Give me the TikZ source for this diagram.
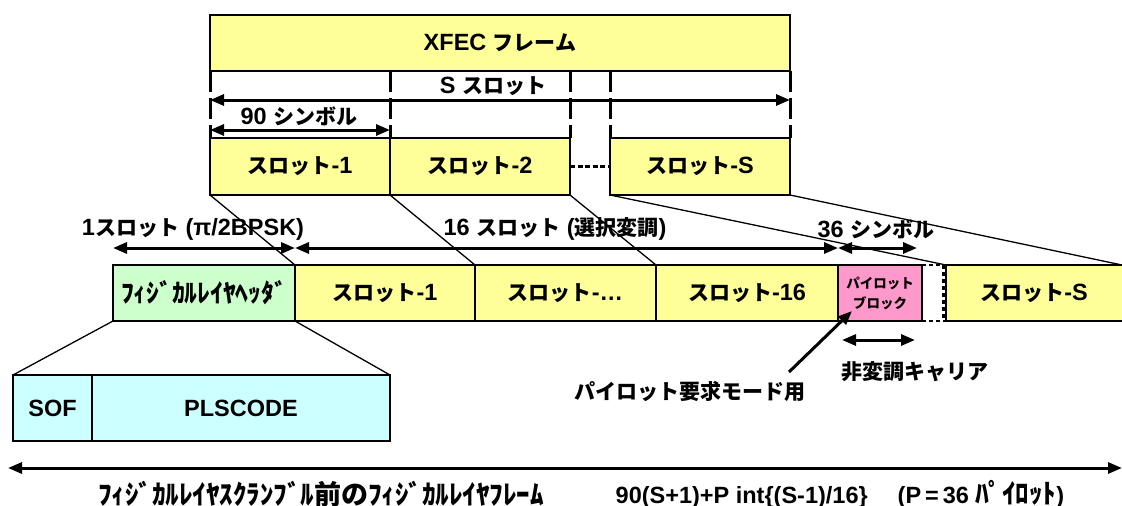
\documentclass[tikz,border=0pt]{standalone}
\usepackage{fontspec}
\setmainfont{Liberation Sans}
\newfontfamily\jpf{Noto Sans CJK JP}
\newcommand\jp{\jpf\fontsize{21}{24}\selectfont}
\usetikzlibrary{arrows.meta}
\definecolor{yfill}{HTML}{FFFF99}
\definecolor{gfill}{HTML}{CCFFCC}
\definecolor{pfill}{HTML}{FF99CC}
\definecolor{cfill}{HTML}{CCFFFF}
\tikzset{
  box/.style={draw, line width=1.4pt, inner sep=0pt, outer sep=0pt, anchor=north west,
    font=\bfseries\fontsize{23.5}{26}\selectfont, align=center},
  ybox/.style={box, fill=yfill},
  gbox/.style={box, fill=gfill},
  pbox/.style={box, fill=pfill},
  cbox/.style={box, fill=cfill},
  lbl/.style={inner sep=0pt, font=\bfseries\fontsize{23.5}{26}\selectfont},
  dashv/.style={line width=3pt, dash pattern=on 21pt off 6pt},
  dotline/.style={line width=3.5pt, dash pattern=on 5pt off 2.5pt},
  dotthin/.style={line width=2.2pt, dash pattern=on 4pt off 3pt},
  dim/.style={line width=3pt, {Triangle[length=14pt,width=11pt]}-{Triangle[length=14pt,width=11pt]}},
  ptr/.style={line width=3pt, -{Triangle[length=14pt,width=11pt]}},
  thin/.style={line width=1.3pt}
}
\begin{document}
\begin{tikzpicture}[x=1pt,y=-1pt]
\useasboundingbox (0,0) rectangle (1122,506);

% top frame
\node[ybox, minimum width=580pt, minimum height=56pt] (xfec) at (210,15) {XFEC {\jp フレーム}};
\node[ybox, minimum width=180pt, minimum height=57pt] (ts1) at (210,138) {{\jp スロット}-1};
\node[ybox, minimum width=180pt, minimum height=57pt] (ts2) at (390,138) {{\jp スロット}-2};
\node[ybox, minimum width=180pt, minimum height=57pt] (tsS) at (610,138) {{\jp スロット}-S};
\draw[dotline] (ts2.east) -- (tsS.west);

\draw[dashv] (xfec.south west) -- (ts1.north west);
\draw[dashv] (ts1.north east |- xfec.south) -- (ts1.north east);
\draw[dashv] (ts2.north east |- xfec.south) -- (ts2.north east);
\draw[dashv] (tsS.north west |- xfec.south) -- (tsS.north west);
\draw[dashv] (xfec.south east) -- (tsS.north east);

\coordinate (sa) at (210,100);
\coordinate (sb) at (790,100);
\draw[dim] (sa) -- (sb);
\node[lbl] (lS) at (493,86) {S {\jp スロット}};
\coordinate (na) at (210,130);
\coordinate (nb) at (390,130);
\draw[dim] (na) -- (nb);
\node[lbl] (l90) at (299,116) {90 {\jp シンボル}};

% middle row
\node[gbox, minimum width=182pt, minimum height=56pt] (hdr) at (113,265) {\jpf\fontsize{25.5}{26}\selectfont ﾌｨｼﾞｶﾙﾚｲﾔﾍｯﾀﾞ};
\node[ybox, minimum width=180pt, minimum height=56pt] (ms1) at (295,265) {{\jp スロット}-1};
\node[ybox, minimum width=181pt, minimum height=56pt] (msd) at (475,265) {{\jp スロット}-…};
\node[ybox, minimum width=182pt, minimum height=56pt] (ms16) at (656,265) {{\jp スロット}-16};
\node[pbox, minimum width=84pt, minimum height=56pt, font=\bfseries\jpf\fontsize{13.5}{20}\selectfont] (pb) at (838,265) {パイロット\\ブロック};
\node[ybox, minimum width=190pt, minimum height=56pt] (msS) at (946,265) {\hspace*{-14pt}{\jp スロット}-S};
\draw[dotthin] (pb.north east) -- (msS.north west);
\draw[dotthin] (pb.south east) -- (msS.south west);
\draw[dotthin] ([xshift=-2.5pt]msS.north west) -- ([xshift=-2.5pt]msS.south west);

% connectors top -> middle
\coordinate (re) at (1122,265);
\draw[thin] (ts1.south west) -- (hdr.north east);
\draw[thin] (ts2.south west) -- (ms1.north east);
\draw[thin] (ts2.south east) -- (msd.north east);
\draw[thin] (tsS.south west) -- (msS.north west);
\draw[thin] (tsS.south east) -- (re);

% middle dimension arrows
\coordinate (m1) at (113,248);
\coordinate (m2) at (295,248);
\coordinate (m3) at (838,248);
\coordinate (m4) at (917,248);
\draw[dim] (m1) -- (m2);
\draw[dim] (m2) -- (m3);
\draw[dim] (m3) -- (m4);
\node[lbl] (l1s) at (193,229) {1{\jp スロット} (π/2BPSK)};
\node[lbl] (l16) at (555,229) {16 {\jp スロット} ({\jp 選択変調})};
\node[lbl] (l36) at (876,229) {36 {\jp シンボル}};

% below pilot block
\coordinate (c1) at (842,340);
\coordinate (c2) at (915,340);
\draw[dim] (c1) -- (c2);
\node[lbl] (lnm) at (915,372) {\jp 非変調キャリア};
\coordinate (pt) at (789,372);
\coordinate (ph) at (852,311);
\draw[ptr] (pt) -- (ph);
\node[lbl] (lpr) at (690,392) {\jp パイロット要求モード用};

% SOF / PLSCODE
\node[cbox, minimum width=79pt, minimum height=66pt] (sof) at (13,375) {SOF};
\node[cbox, minimum width=298pt, minimum height=66pt] (pls) at (92,375) {PLSCODE};
\draw[thin] (hdr.south west) -- (sof.north west);
\draw[thin] (hdr.south east) -- (pls.north east);

% bottom
\coordinate (ba) at (8,468);
\coordinate (bb) at (1122,468);
\draw[dim] (ba) -- (bb);
\node[lbl, font=\bfseries\jpf\fontsize{27}{28}\selectfont] (lb1) at (321,494) {ﾌｨｼﾞｶﾙﾚｲﾔｽｸﾗﾝﾌﾞﾙ前のﾌｨｼﾞｶﾙﾚｲﾔﾌﾚｰﾑ};
\node[lbl] (lb2) at (840,494) {90(S+1)+P int\{(S-1)/16\}\hspace{30pt}(P\,=\,36 {\jpf\fontsize{27}{28}\selectfont ﾊﾟｲﾛｯﾄ})};
\end{tikzpicture}
\end{document}
